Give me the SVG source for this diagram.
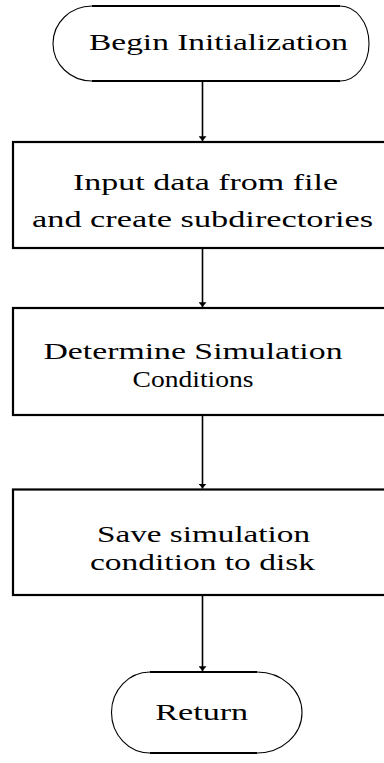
<svg xmlns="http://www.w3.org/2000/svg" width="384" height="763" viewBox="0 0 384 763">
  <style>
    .label { font-family: "Liberation Serif", "Times New Roman", serif; font-size: 24px; fill: #000; text-anchor: middle; }
    .box { fill: #fff; stroke: #000; stroke-width: 2.2; }
    .term-arc { fill: none; stroke: #000; stroke-width: 1.1; }
    .term-line { fill: none; stroke: #000; stroke-width: 2.2; }
    .wire { fill: none; stroke: #000; stroke-width: 1.6; }
  </style>
  <defs>
    <marker id="arrow" viewBox="0 0 6 10" refX="6" refY="5" markerWidth="5" markerHeight="8" markerUnits="userSpaceOnUse" orient="auto">
      <path d="M0,0 L6,5 L0,10 Z" fill="#000"/>
    </marker>
  </defs>

  <!-- connectors -->
  <g id="connectors">
    <line class="wire" x1="202.5" y1="82" x2="202.5" y2="141" marker-end="url(#arrow)"/>
    <line class="wire" x1="202.5" y1="249" x2="202.5" y2="307" marker-end="url(#arrow)"/>
    <line class="wire" x1="202.5" y1="416" x2="202.5" y2="488.5" marker-end="url(#arrow)"/>
    <line class="wire" x1="202.5" y1="596" x2="202.5" y2="671" marker-end="url(#arrow)"/>
  </g>

  <!-- start terminal -->
  <g id="begin">
    <path class="term-arc" d="M92,6 A39,37.5 0 0 0 92,81"/>
    <path class="term-arc" d="M340,6 A29,37.5 0 0 1 340,81"/>
    <line class="term-line" x1="92" y1="6" x2="340" y2="6"/>
    <line class="term-line" x1="92" y1="81" x2="340" y2="81"/>
    <text class="label" x="218.5" y="50" textLength="259" lengthAdjust="spacingAndGlyphs">Begin Initialization</text>
  </g>

  <!-- process boxes -->
  <g id="input-data">
    <rect class="box" x="13" y="142" width="380" height="106"/>
    <text class="label" x="205.5" y="190" textLength="265" lengthAdjust="spacingAndGlyphs">Input data from file</text>
    <text class="label" x="202.5" y="227" textLength="341" lengthAdjust="spacingAndGlyphs">and create subdirectories</text>
  </g>

  <g id="determine-conditions">
    <rect class="box" x="13" y="308" width="380" height="107"/>
    <text class="label" x="193" y="359" textLength="299" lengthAdjust="spacingAndGlyphs">Determine Simulation</text>
    <text class="label" x="193" y="387" textLength="121" lengthAdjust="spacingAndGlyphs">Conditions</text>
  </g>

  <g id="save-conditions">
    <rect class="box" x="13" y="489.5" width="380" height="105.5"/>
    <text class="label" x="203.5" y="541.5" textLength="213" lengthAdjust="spacingAndGlyphs">Save simulation</text>
    <text class="label" x="202.5" y="570" textLength="225" lengthAdjust="spacingAndGlyphs">condition to disk</text>
  </g>

  <!-- end terminal -->
  <g id="return">
    <path class="term-arc" d="M150,672 A38.5,40.5 0 0 0 150,753"/>
    <path class="term-arc" d="M257,672 A45,40.5 0 0 1 257,753"/>
    <line class="term-line" x1="150" y1="672" x2="257" y2="672"/>
    <line class="term-line" x1="150" y1="753" x2="257" y2="753"/>
    <text class="label" x="201.7" y="720" textLength="93" lengthAdjust="spacingAndGlyphs">Return</text>
  </g>
</svg>
